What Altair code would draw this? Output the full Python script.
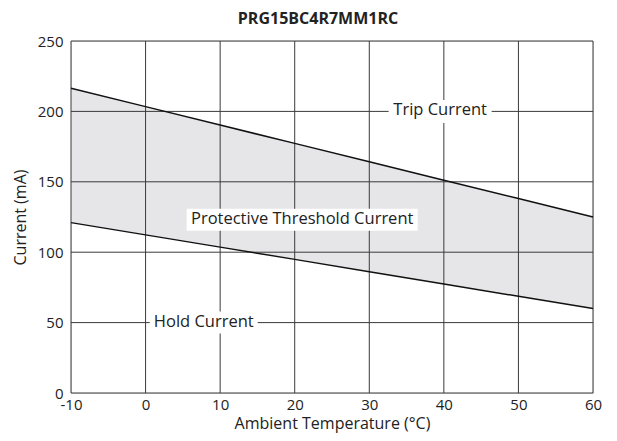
import altair as alt
import pandas as pd

# ---- data ----
temps = [-10, 0, 10, 20, 30, 40, 50, 60]
trip = [216.5, 203.4, 190.3, 177.3, 164.2, 151.1, 138.1, 125.0]
hold = [121.0, 112.3, 103.6, 94.9, 86.1, 77.4, 68.7, 60.0]
x_ticks = [-10, 0, 10, 20, 30, 40, 50, 60]
y_ticks = [0, 50, 100, 150, 200, 250]
label_text = ["Trip Current", "Protective Threshold Current", "Hold Current"]
label_temp = [39.5, 21.0, 7.8]
label_cur = [200.0, 123.0, 50.0]

FONT = "Open Sans"
TXT = "#222222"
FS = 16.5   # annotation text
TFS = 16    # axis titles
LFS = 15    # tick labels

df = pd.DataFrame({"t": temps, "trip": trip, "hold": hold})
xg = pd.DataFrame({"v": x_ticks})
yg = pd.DataFrame({"v": y_ticks})
lab = pd.DataFrame({"txt": label_text, "t": label_temp, "c": label_cur})

xs = alt.Scale(domain=[-10, 60], nice=False, zero=False)
ys = alt.Scale(domain=[0, 250], nice=False, zero=False)

xax = alt.Axis(values=x_ticks, grid=False, ticks=False, domain=False, labelFont=FONT,
               labelFontSize=LFS, labelColor=TXT, labelPadding=4,
               labelExpr="replace(datum.label, '\u2212', '-')",
               title="Ambient Temperature (°C)",
               titleFont=FONT, titleFontSize=TFS, titleFontWeight="normal", titleColor=TXT,
               titlePadding=3, labelFlush=False)
yax = alt.Axis(values=y_ticks, grid=False, ticks=False, domain=False, labelFont=FONT,
               labelFontSize=LFS, labelColor=TXT, labelPadding=8, title="Current (mA)",
               titleFont=FONT, titleFontSize=TFS, titleFontWeight="normal", titleColor=TXT,
               titlePadding=9)

area = alt.Chart(df).mark_area(color="#e6e6e8").encode(
    x=alt.X("t:Q", scale=xs, axis=xax),
    y=alt.Y("trip:Q", scale=ys, axis=yax),
    y2="hold:Q",
)
vgrid = alt.Chart(xg).mark_rule(color="#3a3a3a", strokeWidth=1).encode(
    x=alt.X("v:Q", scale=xs))
hgrid = alt.Chart(yg).mark_rule(color="#3a3a3a", strokeWidth=1).encode(
    y=alt.Y("v:Q", scale=ys))
trip_line = alt.Chart(df).mark_line(color="#111111", strokeWidth=1.5).encode(
    x=alt.X("t:Q", scale=xs), y=alt.Y("trip:Q", scale=ys))
hold_line = alt.Chart(df).mark_line(color="#111111", strokeWidth=1.5).encode(
    x=alt.X("t:Q", scale=xs), y=alt.Y("hold:Q", scale=ys))

box_w = [103, 231, 108]
box_h = [23, 22, 22]
boxes = []
for i in range(3):
    boxes.append(
        alt.Chart(lab.iloc[[i]]).mark_rect(color="white", width=box_w[i], height=box_h[i]).encode(
            x=alt.X("t:Q", scale=xs), y=alt.Y("c:Q", scale=ys))
    )
texts = alt.Chart(lab).mark_text(font=FONT, fontSize=FS, color=TXT, baseline="middle",
                                 align="center", dy=-1).encode(
    x=alt.X("t:Q", scale=xs), y=alt.Y("c:Q", scale=ys), text="txt:N")

chart = alt.layer(area, vgrid, hgrid, trip_line, hold_line, *boxes, texts).properties(
    width=522, height=352, autosize="none",
    padding={"left": 63, "top": 33, "right": 16, "bottom": 40},
    title=alt.TitleParams("PRG15BC4R7MM1RC", font=FONT, fontSize=16, fontWeight="bold",
                          color=TXT, offset=12, dx=-14, dy=4.5, anchor="middle"),
).configure_view(stroke=None).configure(background="white")

chart.save("out.html", embed_options={"renderer": "svg", "actions": False})
